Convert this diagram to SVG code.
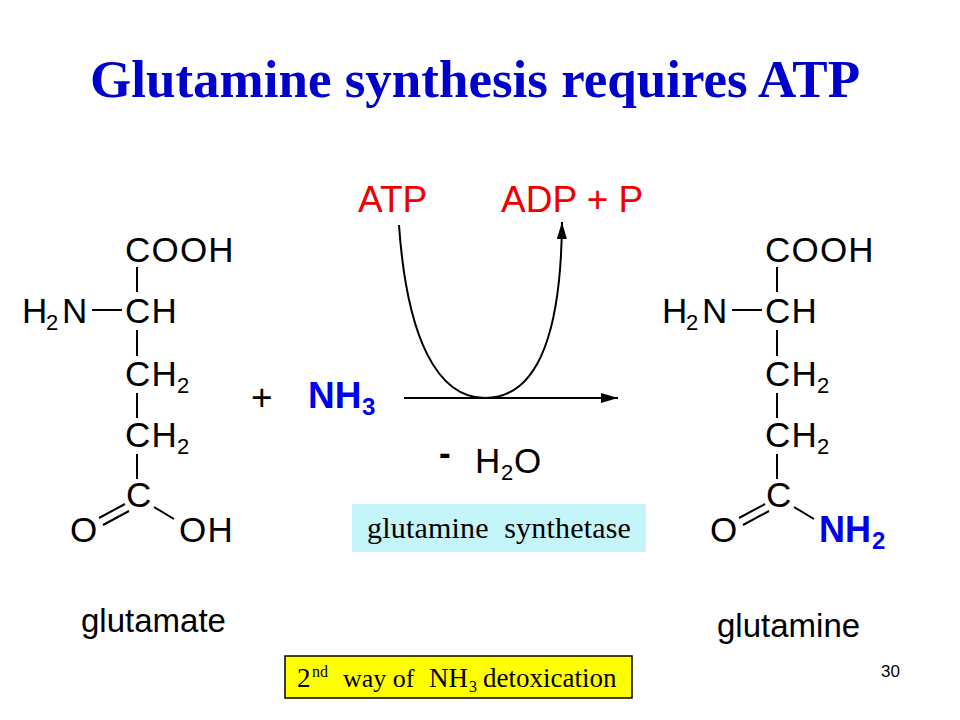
<svg xmlns="http://www.w3.org/2000/svg" width="960" height="720" viewBox="0 0 960 720">
<defs>
<style>
.mol{font-family:"Liberation Sans",Arial,sans-serif;font-size:35px;fill:#000;letter-spacing:1.2px}
.sub{font-size:22px;letter-spacing:0}
.bond{stroke:#000;stroke-width:2;fill:none}
.lbl{font-family:"Liberation Sans",Arial,sans-serif;fill:#000}
.red{font-family:"Liberation Sans",Arial,sans-serif;font-size:37px;fill:#EE0000}
.blue{font-family:"Liberation Sans",Arial,sans-serif;font-weight:bold;fill:#0000EE}
.serif{font-family:"Liberation Serif","Times New Roman",serif;fill:#000;white-space:pre}
.conn{stroke:#000;stroke-width:2;fill:none}
</style>
<marker id="ah" markerUnits="userSpaceOnUse" markerWidth="18" markerHeight="10" refX="17" refY="5" orient="auto">
<path d="M0,0 L17,5 L0,10 z" fill="#000"/>
</marker>
<g id="backbone">
<text class="mol" x="125" y="262">COOH</text>
<text class="mol" y="323"><tspan x="22">H</tspan><tspan class="sub" x="46" y="330">2</tspan><tspan x="62" y="323">N</tspan></text>
<line class="bond" x1="92" y1="310" x2="122" y2="310"/>
<text class="mol" x="125" y="323">CH</text>
<text class="mol" y="386"><tspan x="125">CH</tspan><tspan class="sub" x="177" y="393">2</tspan></text>
<text class="mol" y="447"><tspan x="125">CH</tspan><tspan class="sub" x="177" y="454">2</tspan></text>
<text class="mol" x="126" y="507">C</text>
<text class="mol" x="70" y="542">O</text>
<line class="bond" x1="137" y1="267" x2="137" y2="292"/>
<line class="bond" x1="137" y1="330" x2="137" y2="356"/>
<line class="bond" x1="137" y1="393" x2="137" y2="418"/>
<line class="bond" x1="137" y1="454" x2="137" y2="479"/>
<line class="bond" x1="99" y1="518" x2="125" y2="504"/>
<line class="bond" x1="103" y1="525" x2="129" y2="511"/>
<line class="bond" x1="154" y1="507" x2="174" y2="519"/>
</g>
</defs>

<g id="title">
<text x="475" y="97" text-anchor="middle" font-family="'Liberation Serif','Times New Roman',serif" font-weight="bold" font-size="53" fill="#0000CC">Glutamine synthesis requires ATP</text>
</g>

<g id="glutamate">
<use href="#backbone"/>
<text class="mol" x="179" y="542">OH</text>
<text class="lbl" x="81" y="632" font-size="33">glutamate</text>
</g>

<g id="glutamine">
<use href="#backbone" transform="translate(640,0)"/>
<text class="blue" font-size="36" y="542"><tspan x="819">NH</tspan><tspan x="872" y="549" font-size="24">2</tspan></text>
<text class="lbl" x="717" y="637" font-size="33">glutamine</text>
</g>

<g id="atp">
<text class="red" x="358" y="212">ATP</text>
</g>

<g id="adp">
<text class="red" x="501" y="212">ADP + P</text>
</g>

<g id="nh3">
<text class="lbl" x="251" y="410" font-size="37">+</text>
<text class="blue" font-size="37" y="408"><tspan x="308">NH</tspan><tspan x="362" y="415" font-size="24">3</tspan></text>
</g>

<g id="water">
<text class="lbl" x="439" y="465" font-size="35" font-weight="bold">-</text>
<text class="lbl" font-size="35" y="473"><tspan x="475">H</tspan><tspan x="501" y="480" font-size="22">2</tspan><tspan x="514" y="473">O</tspan></text>
</g>

<g id="enzyme">
<rect x="352" y="504" width="294" height="48" fill="#C4F5F9"/>
<text class="serif" x="367" y="538" font-size="30" letter-spacing="0.2">glutamine  synthetase</text>
</g>

<g id="note">
<rect x="285" y="656" width="347" height="42" fill="#FFFF00" stroke="#000" stroke-width="1.5"/>
<text class="serif" font-size="27" y="687"><tspan x="297">2</tspan><tspan x="312" y="677" font-size="16">nd</tspan><tspan x="343" y="687" font-size="26">way of</tspan><tspan x="429" y="687">NH</tspan><tspan x="469" y="692" font-size="16">3</tspan><tspan x="483" y="687">detoxication</tspan></text>
</g>

<g id="page">
<text class="lbl" x="881" y="677" font-size="17">30</text>
</g>

<g id="connectors">
<path class="conn" d="M399,225 C407,340 438,398 485,398 C533,398 561,345 562,222" marker-end="url(#ah)"/>
<line class="conn" x1="404" y1="398" x2="618" y2="398" marker-end="url(#ah)"/>
</g>
</svg>
